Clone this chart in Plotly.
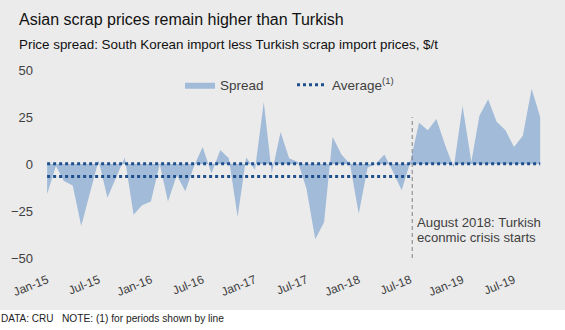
import numpy as np
import pandas as pd
import plotly.graph_objects as go

# Monthly observations, Jan-2015 .. Oct-2019
months = pd.date_range("2015-01-01", "2019-10-01", freq="MS")

# South Korean import less Turkish scrap import price, $/t
spread = [-16, -1, -9, -11.5, -33, -15, 2, -18, -7, 3.5,
          -27, -22, -20, 0, -20, -6, -14.5, -1, 9, -5,
          7.5, 3, -28, 3.5, -3, 33, -5, 17, 3, 1,
          -13, -40, -31, 14.5, 5, 0, -26.5, -2, 0, 5,
          -4, -14, 1, 22, 18, 24, 10, -2, 31, 1,
          25.5, 34.5, 22.5, 18, 9, 15, 40, 25]

# Pre-crisis window ends with Jul-2018
pre_last = 42
crisis_date = "2018-07-08"
crisis_span = [-50, 25]

ytick_vals = [-50, -25, 0, 25, 50]
grid_vals = [-50, -25, 25, 50]

avg_all = float(np.mean(spread))
avg_pre = float(np.mean(spread[:pre_last + 1]))

BG = "#ebebeb"
AREA = "#a2bbd8"
DOT = "#1f4f8c"
TXT = "#404040"
FONT = "Liberation Sans, Arial, sans-serif"

W, H = 565, 330
M = dict(l=42, r=20, t=70, b=72)

fig = go.Figure()

fig.add_trace(go.Scatter(
    x=months, y=spread, mode="lines", fill="tozeroy",
    fillcolor=AREA, line=dict(width=0, color=AREA),
    name="Spread", hoverinfo="skip"))

fig.add_trace(go.Scatter(
    x=[months[0], months[-1]], y=[avg_all, avg_all], mode="lines",
    line=dict(color=DOT, width=3, dash="3px,3px"),
    name="Average<sup>(1)</sup>", legendgroup="avg"))

fig.add_trace(go.Scatter(
    x=[months[0], months[pre_last]], y=[avg_pre, avg_pre], mode="lines",
    line=dict(color=DOT, width=3, dash="3px,3px"),
    name="Average", legendgroup="avg", showlegend=False))

fig.add_trace(go.Scatter(
    x=[crisis_date, crisis_date], y=crisis_span, mode="lines",
    line=dict(color="#808080", width=1, dash="4px,3px"),
    showlegend=False, hoverinfo="skip"))

fig.update_layout(
    width=W, height=H, margin=M,
    paper_bgcolor=BG, plot_bgcolor="rgba(0,0,0,0)",
    font=dict(family=FONT, color=TXT),
    showlegend=True,
    legend=dict(orientation="h", x=(180 - M["l"]) / 503, xanchor="left",
                y=0.92, yanchor="middle", bgcolor="rgba(0,0,0,0)",
                font=dict(size=13.5, color=TXT), entrywidth=67,
                traceorder="normal"),
    xaxis=dict(type="date", range=["2014-12-14", "2019-10-18"],
               tick0="2015-01-01", dtick="M6", tickformat="%b-%y",
               tickangle=-22, tickfont=dict(size=12, color=TXT),
               ticklabelstandoff=12,
               showgrid=False, zeroline=False, showline=False, ticks=""),
    yaxis=dict(range=[-50, 50], tickvals=ytick_vals, showgrid=False,
               zeroline=False, showline=False, ticks="",
               tickfont=dict(size=13, color=TXT), ticklabelstandoff=8),
    yaxis2=dict(range=[-50, 50], overlaying="y", tickvals=grid_vals,
                showticklabels=False, showgrid=True, gridcolor="#a6a6a6",
                gridwidth=1, zeroline=False, showline=False, ticks=""),
)

# white strip behind the footer
fig.add_shape(type="rect", xref="paper", x0=-0.2, x1=1.2,
              yref="paper", ysizemode="pixel", yanchor=0, y0=-52, y1=-80,
              fillcolor="white", line=dict(width=0), layer="below")

ann = dict(showarrow=False, xref="paper", yref="paper")
fig.add_annotation(text="Asian scrap prices remain higher than Turkish",
                   x=0, xanchor="left", xshift=-25, y=1, yanchor="middle",
                   yshift=70 - 19, font=dict(size=16, color="#111111"), **ann)
fig.add_annotation(text="Price spread: South Korean import less Turkish scrap import prices, $/t",
                   x=0, xanchor="left", xshift=-25, y=1, yanchor="middle",
                   yshift=70 - 44, font=dict(size=13.4, color="#111111"), **ann)
fig.add_annotation(text="DATA: CRU", x=0, xanchor="left", xshift=-43,
                   y=0, yanchor="middle", yshift=258 - 318.5,
                   font=dict(size=10, color="#222222"), **ann)
fig.add_annotation(text="NOTE: (1) for periods shown by line", x=0,
                   xanchor="left", xshift=60.5 - 43, y=0, yanchor="middle",
                   yshift=258 - 318.5, font=dict(size=10.2, color="#222222"), **ann)

for txt, yv in [("August 2018: Turkish", -31.0), ("econmic crisis starts", -38.9)]:
    fig.add_annotation(text=txt, x=crisis_date, xref="x", xanchor="left",
                       xshift=3, y=yv, yref="y", yanchor="middle",
                       showarrow=False, font=dict(size=13.2, color=TXT))

fig.write_html("out.html")
